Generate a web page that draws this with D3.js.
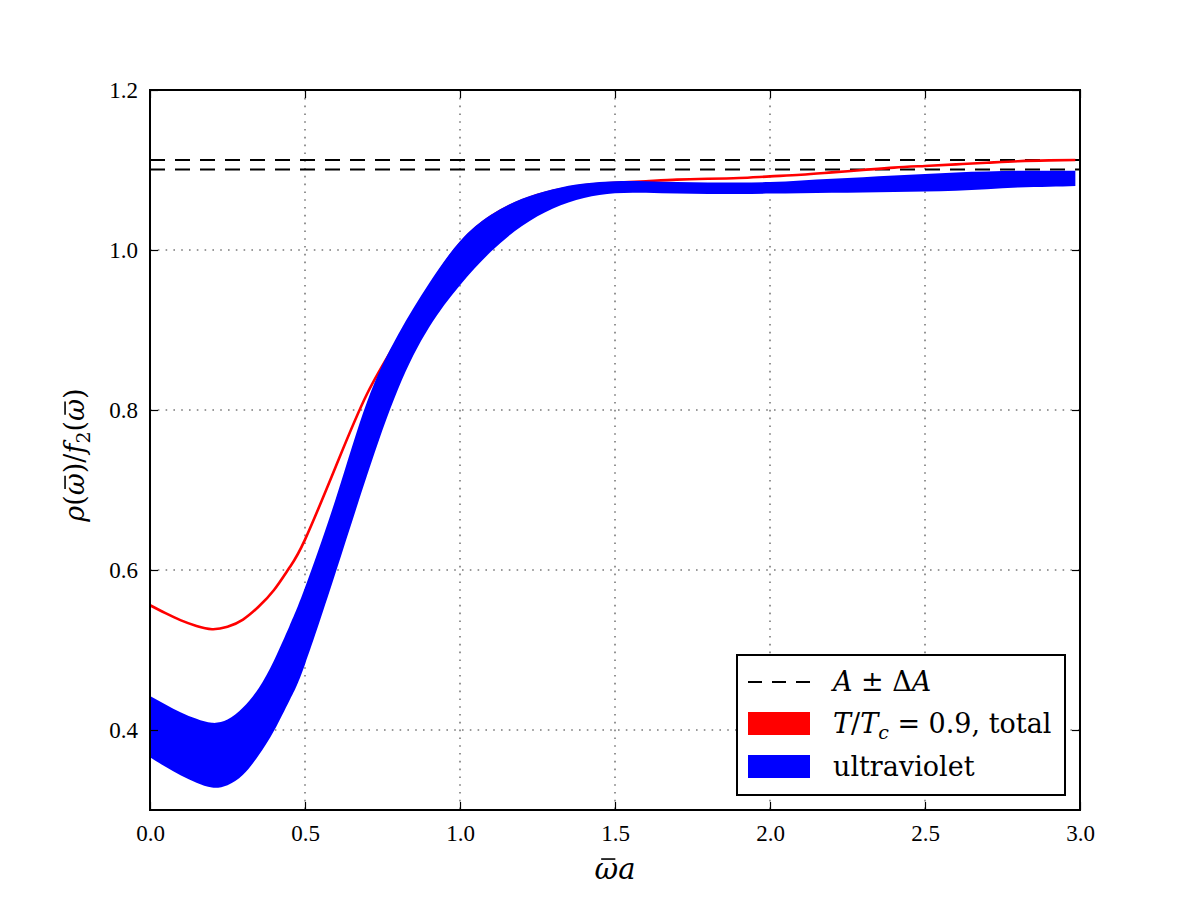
<!DOCTYPE html>
<html>
<head>
<meta charset="utf-8"/>
<script src="https://d3js.org/d3.v7.min.js"></script>
<style>
  body { margin: 0; background: #fff; }
  text { font-family: "DejaVu Serif", serif; fill: #000; }
</style>
</head>
<body>
<div id="chart"></div>
<script>
// sample points along omega-bar * a
var xGrid = [0, 0.05, 0.1, 0.15, 0.2, 0.25, 0.3, 0.35, 0.4, 0.45, 0.5, 0.6, 0.7, 0.8, 0.9, 1.0,
             1.1, 1.2, 1.3, 1.4, 1.5, 1.6, 1.7, 1.8, 1.9, 2.0, 2.1, 2.2, 2.3, 2.4, 2.5, 2.6, 2.7,
             2.8, 2.9, 2.985];
// T/Tc = 0.9 total (red)
var totalVals = [0.556, 0.546, 0.537, 0.530, 0.526, 0.529, 0.538, 0.554, 0.575, 0.603, 0.638, 0.730,
                 0.820, 0.888, 0.953, 1.008, 1.042, 1.062, 1.074, 1.081, 1.084, 1.086, 1.088, 1.089,
                 1.090, 1.092, 1.094, 1.097, 1.100, 1.103, 1.105, 1.107, 1.109, 1.111, 1.112, 1.1125];
// ultraviolet band (blue), upper and lower edge
var uvUpper = [0.4425, 0.432, 0.422, 0.414, 0.409, 0.413, 0.428, 0.452, 0.487, 0.530, 0.578, 0.690,
               0.810, 0.894, 0.958, 1.011, 1.044, 1.064, 1.076, 1.083, 1.086, 1.086, 1.085, 1.0845,
               1.0845, 1.085, 1.087, 1.089, 1.091, 1.093, 1.095, 1.097, 1.098, 1.099, 1.099, 1.099];
var uvLower = [0.366, 0.354, 0.343, 0.334, 0.328, 0.331, 0.344, 0.368, 0.399, 0.437, 0.482, 0.598,
               0.718, 0.826, 0.903, 0.956, 0.998, 1.030, 1.052, 1.065, 1.071, 1.0715, 1.0705, 1.070,
               1.070, 1.0705, 1.071, 1.0715, 1.072, 1.0725, 1.073, 1.074, 1.076, 1.078, 1.079, 1.080];
// A +/- dA
var aLevels = [1.1125, 1.1005];
var xTicks = [0, 0.5, 1.0, 1.5, 2.0, 2.5, 3.0];
var yTicks = [0.4, 0.6, 0.8, 1.0, 1.2];

var W = 1200, H = 900;
var margin = {top: 90, right: 120, bottom: 90, left: 150};
var width = W - margin.left - margin.right,
    height = H - margin.top - margin.bottom;

var svg = d3.select("#chart").append("svg")
    .attr("width", W).attr("height", H);
var g = svg.append("g")
    .attr("transform", "translate(" + margin.left + "," + margin.top + ")");

var x = d3.scaleLinear().domain([0, 3]).range([0, width]);
var y = d3.scaleLinear().domain([0.3, 1.2]).range([height, 0]);

// dotted grid
g.append("g").selectAll("line").data(xTicks.slice(1, -1)).enter().append("line")
    .attr("x1", function(d) { return x(d); }).attr("x2", function(d) { return x(d); })
    .attr("y1", 0).attr("y2", height)
    .attr("stroke", "#7a7a7a").attr("stroke-width", 1.6).attr("stroke-dasharray", "1.6,6.2");
g.append("g").selectAll("line").data(yTicks.slice(0, -1)).enter().append("line")
    .attr("x1", 0).attr("x2", width)
    .attr("y1", function(d) { return y(d); }).attr("y2", function(d) { return y(d); })
    .attr("stroke", "#7a7a7a").attr("stroke-width", 1.6).attr("stroke-dasharray", "1.6,6.2");

// dashed A +/- dA lines
g.append("g").selectAll("line").data(aLevels).enter().append("line")
    .attr("x1", 0).attr("x2", width)
    .attr("y1", function(d) { return y(d); }).attr("y2", function(d) { return y(d); })
    .attr("stroke", "#000").attr("stroke-width", 2).attr("stroke-dasharray", "15,10");

// red total curve
var line = d3.line()
    .x(function(d, i) { return x(xGrid[i]); })
    .y(function(d) { return y(d); })
    .curve(d3.curveNatural);
g.append("path").datum(totalVals)
    .attr("d", line).attr("fill", "none")
    .attr("stroke", "#ff0000").attr("stroke-width", 2.6);

// blue ultraviolet band
var area = d3.area()
    .x(function(d, i) { return x(xGrid[i]); })
    .y0(function(d, i) { return y(uvLower[i]); })
    .y1(function(d) { return y(d); })
    .curve(d3.curveNatural);
g.append("path").datum(uvUpper)
    .attr("d", area).attr("fill", "#0000ff").attr("stroke", "none");

// axes: ticks inside on all four sides
var tickLen = 8;
g.append("g").attr("transform", "translate(0," + height + ")")
    .call(d3.axisBottom(x).tickValues(xTicks).tickSize(-tickLen).tickPadding(15)
          .tickFormat(d3.format(".1f")));
g.append("g")
    .call(d3.axisTop(x).tickValues(xTicks).tickSize(-tickLen).tickFormat(""));
g.append("g")
    .call(d3.axisLeft(y).tickValues(yTicks).tickSize(-tickLen).tickPadding(12)
          .tickFormat(d3.format(".1f")));
g.append("g").attr("transform", "translate(" + width + ",0)")
    .call(d3.axisRight(y).tickValues(yTicks).tickSize(-tickLen).tickFormat(""));
g.selectAll(".domain").remove();
g.selectAll(".tick line").attr("stroke", "#000").attr("stroke-width", 1.2);
g.selectAll(".tick text").attr("fill", "#000").style("font-size", "23px")
    .style("font-family", "'Liberation Serif', serif");

// frame
g.append("rect").attr("width", width).attr("height", height)
    .attr("fill", "none").attr("stroke", "#000").attr("stroke-width", 2);

// draw a macron above character i of a text element
function macron(parent, textEl, i, fs) {
    var ext = textEl.node().getExtentOfChar(i);
    var base = ext.y + ext.height * 0.77;
    parent.append("line")
        .attr("x1", ext.x + ext.width * 0.28).attr("x2", ext.x + ext.width * 0.88)
        .attr("y1", base - fs * 0.66).attr("y2", base - fs * 0.66)
        .attr("stroke", "#000").attr("stroke-width", 1.6);
}

// x axis label
var xg = svg.append("g");
var xlab = xg.append("text")
    .attr("x", margin.left + width / 2).attr("y", 879)
    .attr("text-anchor", "middle").style("font-size", "29px").style("font-style", "italic")
    .text("ωa");
macron(xg, xlab, 0, 29);

// y axis label
var yg = svg.append("g")
    .attr("transform", "translate(84," + (margin.top + height / 2 + 5) + ") rotate(-90)");
var ylab = yg.append("text").attr("x", 0).attr("y", 0)
    .attr("text-anchor", "middle").style("font-size", "27px");
ylab.append("tspan").style("font-style", "italic").text("ρ");
ylab.append("tspan").text("(");
ylab.append("tspan").style("font-style", "italic").text("ω");
ylab.append("tspan").text(")/");
ylab.append("tspan").style("font-style", "italic").text("f");
ylab.append("tspan").attr("dy", 6).style("font-size", "19px").text("2");
ylab.append("tspan").attr("dy", -6).text("(");
ylab.append("tspan").style("font-style", "italic").text("ω");
ylab.append("tspan").text(")");
macron(yg, ylab, 2, 27);
macron(yg, ylab, 8, 27);

// legend
var lg = svg.append("g").attr("transform", "translate(737,655)");
lg.append("rect").attr("width", 328).attr("height", 140)
    .attr("fill", "#fff").attr("stroke", "#000").attr("stroke-width", 2);
lg.append("line").attr("x1", 11).attr("x2", 73).attr("y1", 27).attr("y2", 27)
    .attr("stroke", "#000").attr("stroke-width", 2).attr("stroke-dasharray", "14,10");
lg.append("rect").attr("x", 11).attr("y", 57).attr("width", 62).attr("height", 23).attr("fill", "#ff0000");
lg.append("rect").attr("x", 11).attr("y", 100).attr("width", 62).attr("height", 23).attr("fill", "#0000ff");

var t1 = lg.append("text").attr("x", 96).attr("y", 36).style("font-size", "27px");
t1.append("tspan").style("font-style", "italic").text("A");
t1.append("tspan").text(" ± Δ");
t1.append("tspan").style("font-style", "italic").text("A");

var t2 = lg.append("text").attr("x", 96).attr("y", 78).style("font-size", "27px");
t2.append("tspan").style("font-style", "italic").text("T");
t2.append("tspan").text("/");
t2.append("tspan").style("font-style", "italic").text("T");
t2.append("tspan").attr("dy", 6).style("font-size", "19px").style("font-style", "italic").text("c");
t2.append("tspan").attr("dy", -6).text(" = 0.9, total");

lg.append("text").attr("x", 96).attr("y", 121).style("font-size", "27px").text("ultraviolet");
</script>
</body>
</html>
